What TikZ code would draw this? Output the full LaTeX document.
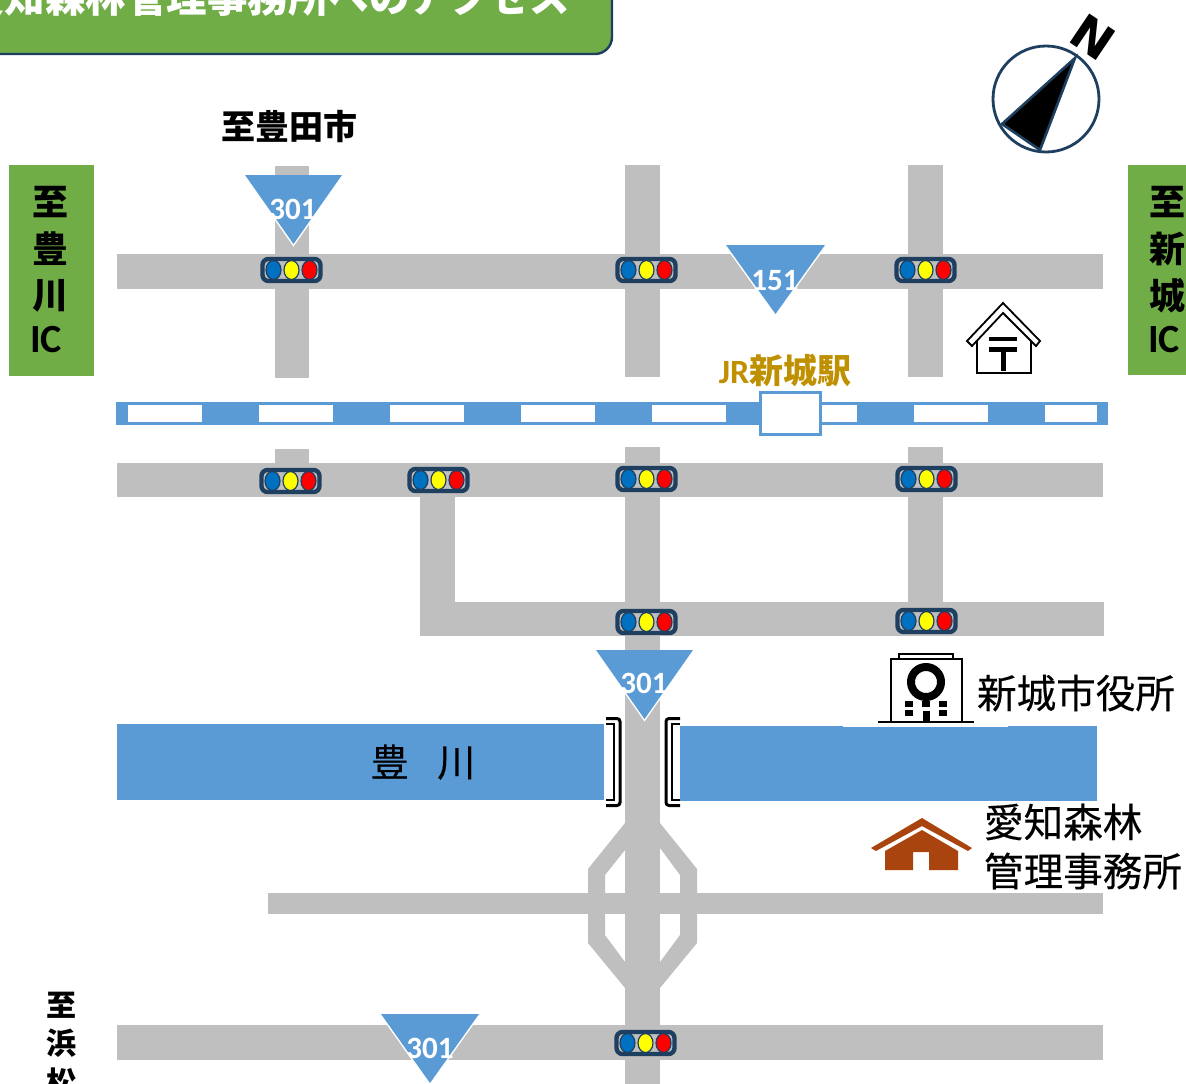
\documentclass[tikz,border=0pt]{standalone}
\usepackage{fontspec}
\setmainfont{Noto Sans CJK JP}
\newfontfamily\latinf{Carlito}
\newfontfamily\heavyf{DejaVu Sans}
\definecolor{road}{HTML}{BFBFBF}
\definecolor{grn}{HTML}{70AD47}
\definecolor{blu}{HTML}{5B9BD5}
\definecolor{dark}{HTML}{1F3F60}
\definecolor{gold}{HTML}{BF9000}
\definecolor{brn}{HTML}{A9440F}
\newcommand{\fs}[1]{\fontsize{#1}{#1}\selectfont}
\newcommand{\routesign}[3]{% left x, top y, right x; apex is under the middle, 69 below
  \draw[white,line width=3pt,line join=miter] (#1,#2) -- ({(#1+#3)/2},#2+69) -- (#3,#2);
  \fill[blu] (#1,#2) -- (#3,#2) -- ({(#1+#3)/2},#2+69) -- cycle;
}
\tikzset{
  x=1pt,y=-1pt,
  roadfill/.style={fill=road,draw=none},
  riverfill/.style={fill=blu,draw=none},
  label/.style={inner sep=0pt,outer sep=0pt,text=black},
  boldlabel/.style={label,font=\bfseries},
  routeno/.style={inner sep=0pt,text=white,font=\latinf\bfseries\fs{31}},
  signal/.pic={
    \draw[dark,line width=4.4pt,rounded corners=6pt] (-29,-11) rectangle (29,11);
    \foreach \cx/\cc in {-18/{0070C0},0/{FFFF00},18/{FF0000}}{
      \definecolor{lamp}{HTML}{\cc}
      \draw[dark,line width=1.2pt,fill=lamp] (\cx,0) ellipse [x radius=7.5,y radius=9.5];
    }
  }
}
\begin{document}
\begin{tikzpicture}
\useasboundingbox (0,0) rectangle (1186,1084);
\clip (0,0) rectangle (1186,1084);
\fill[white] (0,0) rectangle (1186,1084);

% title
\draw[fill=grn,draw=dark,line width=2.4pt,rounded corners=17pt] (-40,-60) rectangle (612,54);
\node[inner sep=0pt,text=white,font=\bfseries\fs{40.5},anchor=east] (title) at (570,-3) {愛知森林管理事務所へのアクセス};

% roads
\fill[roadfill] (275,166) rectangle (309,378);
\fill[roadfill] (625,165) rectangle (660,377);
\fill[roadfill] (908,165) rectangle (943,377);
\fill[roadfill] (117,254) rectangle (1103,289);
\fill[roadfill] (275,449) rectangle (309,470);
\fill[roadfill] (625,447) rectangle (660,1084);
\fill[roadfill] (908,447) rectangle (943,610);
\fill[roadfill] (117,463) rectangle (1103,497);
\fill[roadfill] (420,490) rectangle (455,636);
\fill[roadfill] (420,602) rectangle (1104,636);
\fill[roadfill] (268,893) rectangle (1103,914);
\fill[roadfill] (117,1025) rectangle (1103,1060);
% interchange
\fill[roadfill,even odd rule] (625,823) -- (588,869) -- (588,943) -- (625,988) -- (660,988) -- (697,943) -- (697,869) -- (660,823) -- cycle
  (625,850) -- (605,875) -- (605,935) -- (625,962) -- (660,962) -- (680,935) -- (680,875) -- (660,848) -- cycle;
\fill[roadfill] (625,823) rectangle (660,988);
\fill[roadfill] (590,893) rectangle (695,914);

% railway
\fill[riverfill] (116,402) rectangle (1108,425);
\foreach \a/\b in {128/202,259/333,390/464,521/595,652/726,821/857,914/988,1045/1097}
  \fill[white] (\a,405) rectangle (\b,422);
\draw[blu,line width=3pt,fill=white] (760,392) rectangle (820,434);
\node[boldlabel,text=gold,font=\bfseries\fs{34}] (station) at (785,370) {{\latinf JR}新城駅};

% river
\fill[riverfill] (117,724) rectangle (604,800);
\fill[riverfill] (680,726) rectangle (1097,801);
\node[label,font=\fs{38}\addfontfeature{FakeBold=0.3}] (river) at (423,762) {豊\hspace{0.75em}川};
% bridge
\draw[line width=3pt,rounded corners=3pt] (606,718.5) -- (620,718.5) -- (620,805.5) -- (606,805.5);
\draw[line width=2.2pt] (606,724) -- (614,724) -- (614,800) -- (606,800);
\draw[line width=3pt,rounded corners=3pt] (680,718.5) -- (666,718.5) -- (666,805.5) -- (680,805.5);
\draw[line width=2.2pt] (680,724) -- (672,724) -- (672,800) -- (680,800);

% route signs
\routesign{245}{175}{342}
\node[routeno] (r1) at (293,209) {301};
\routesign{726}{245}{825}
\node[routeno] (r2) at (775,281) {151};
\routesign{596}{650}{693}
\node[routeno] (r3) at (644,683) {301};
\routesign{381}{1014}{479}
\node[routeno] (r4) at (430,1048) {301};

% signals
\pic at (291.5,270) {signal};
\pic at (646.5,270) {signal};
\pic at (925.5,270) {signal};
\pic at (290.5,481) {signal};
\pic at (438.5,480) {signal};
\pic at (646.5,479) {signal};
\pic at (926.5,479) {signal};
\pic at (646.5,622) {signal};
\pic at (926.5,621) {signal};
\pic at (645.5,1043) {signal};

% side panels
\fill[grn] (9,165) rectangle (94,376);
\fill[grn] (1128,165) rectangle (1190,375);
\foreach \t/\yy in {至/202,豊/249,川/296}
  \node[boldlabel,font=\bfseries\fs{36}] at (50,\yy) {\t};
\node[boldlabel,font=\latinf\bfseries\fs{40}] (icl) at (46,340) {IC};
\foreach \t/\yy in {至/202,新/249,城/296}
  \node[boldlabel,font=\bfseries\fs{36}] at (1167,\yy) {\t};
\node[boldlabel,font=\latinf\bfseries\fs{40}] (icr) at (1164,340) {IC};

\node[boldlabel,font=\bfseries\fs{34}] (toyota) at (289,127) {至豊田市};
\foreach \t/\yy in {至/1005,浜/1043,松/1082}
  \node[boldlabel,font=\bfseries\fs{30}] at (61,\yy) {\t};

% compass
\draw[dark,line width=2.8pt,fill=white] (1046,99) circle [radius=53];
\draw[dark,line width=2.6pt,fill=black,line join=miter] (1075,58) -- (1002,124) -- (1040,150) -- cycle;
\node[inner sep=0pt,rotate=-34,font=\heavyf\bfseries\fs{48}] (north) at (1093,37) {N};

% post office
\draw[line width=1.8pt,fill=white] (977,336) -- (977,373) -- (1031,373) -- (1031,336);
\draw[line width=1.8pt,fill=white,line join=miter] (967,341) -- (1003,303) -- (1040,341) -- (1036,346) -- (1003,313) -- (972,346) -- cycle;
\fill[black] (989,337) rectangle (1017,341);
\fill[black] (989,347) rectangle (1017,352);
\fill[black] (1001,347) rectangle (1006,371);

% city hall
\fill[white] (843,724) rectangle (1008,727);
\draw[line width=1.8pt] (899,659) -- (899,654) -- (953,654) -- (953,659);
\draw[line width=2pt] (891,722) -- (891,659) -- (962,659) -- (962,722);
\draw[line width=1.8pt] (878,722) -- (974,722);
\draw[line width=8pt] (926,682) circle [radius=15];
\foreach \wx/\wy in {909/704,926/704,943/704,909/713,943/713}
  \fill[black] (\wx-4,\wy-3) rectangle (\wx+4,\wy+3);
\fill[black] (922.5,711) rectangle (929.5,722);
\node[label,font=\fs{39.6}\addfontfeature{FakeBold=0.3}] (cityhall) at (1076,693) {新城市役所};

% forest office
\fill[brn] (871,848) -- (922,818) -- (972,848) -- (968,851) -- (922,826) -- (876,851) -- cycle;
\fill[brn] (922,830) -- (885,851) -- (885,870) -- (913,870) -- (913,852) -- (929,852) -- (929,870) -- (958,870) -- (958,851) -- cycle;
\node[label,font=\fs{39.6}\addfontfeature{FakeBold=0.3},anchor=west] (office1) at (984,822) {愛知森林};
\node[label,font=\fs{39.6}\addfontfeature{FakeBold=0.3},anchor=west] (office2) at (984,871) {管理事務所};
\end{tikzpicture}
\end{document}
